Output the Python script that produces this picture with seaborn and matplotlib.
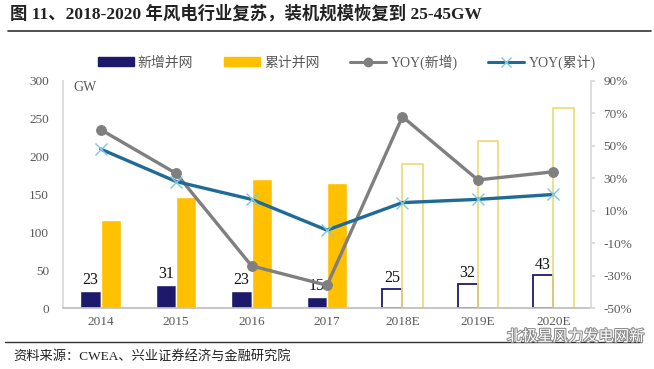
import numpy as np
import pandas as pd
import seaborn as sns
import matplotlib.pyplot as plt
from matplotlib.lines import Line2D
from matplotlib.patches import Patch
import matplotlib.patheffects as pe

years = ['2014', '2015', '2016', '2017', '2018E', '2019E', '2020E']
new_gw = [23, 31, 23, 15, 25, 32, 43]
total_gw = [116, 147, 170, 165, 190, 221, 264]
yoy_new = [60, 33, -24, -36, 68, 29, 34]
yoy_total = [48, 28, 17, -2, 15, 17, 20]
forecast = [False, False, False, False, True, True, True]

navy = '#1d1a6b'
gold = '#ffc000'
gold_edge = '#eedc7a'
grey = '#7f7f7f'
blue = '#1f6b95'
txt = '#595959'

sns.set_theme(style='white')
plt.rcParams['font.family'] = ['Liberation Serif', 'Noto Sans CJK SC', 'DejaVu Sans']
cjk = ['Liberation Serif', 'Noto Sans CJK SC', 'DejaVu Sans']

df = pd.DataFrame({
    'year': years * 2,
    'value': new_gw + total_gw,
    'series': ['新增并网'] * len(years) + ['累计并网'] * len(years),
})

fig = plt.figure(figsize=(6.54, 3.69), dpi=100)
ax = fig.add_axes([0.0963, 0.1653, 0.8074, 0.6152])

sns.barplot(data=df, x='year', y='value', hue='series', palette=[navy, gold],
            width=0.54, ax=ax, legend=False, saturation=1)

# hollow bars for the forecast years
n = len(years)
for i, p in enumerate(ax.patches[:2 * n]):
    k = i % n
    if forecast[k]:
        ec = navy if i < n else gold_edge
        p.set_facecolor('none')
        p.set_edgecolor(ec)
        p.set_linewidth(1.3)

for k in range(n):
    ax.annotate(str(new_gw[k]), (k - 0.135, new_gw[k]), xytext=(0, 2),
                textcoords='offset points', ha='center', va='bottom',
                fontsize=11.5, color='#111111')

ax.set_ylim(0, 300)
ax.set_xlim(-0.5, n - 0.5)
ax.set_yticks(range(0, 301, 50))
ax.set_xlabel('')
ax.set_ylabel('')
ax.tick_params(axis='y', labelsize=9.5, colors=txt, length=0, pad=10)
ax.tick_params(axis='x', labelsize=9.5, colors=txt, length=0, pad=6)
ax.set_xticks(range(n))
ax.set_xticklabels(years)
for s in ['top', 'right']:
    ax.spines[s].set_visible(False)
ax.spines['left'].set_color('#d9d9d9')
ax.spines['bottom'].set_color('#bfbfbf')
ax.text(0.02, 1.0, 'GW', transform=ax.transAxes, fontsize=10, color=txt,
        ha='left', va='top')

ax2 = ax.twinx()
xs = np.arange(n)
sns.lineplot(x=xs, y=yoy_new, ax=ax2, color=grey, lw=2.4, marker='o',
             markersize=7, markeredgecolor=grey)
sns.lineplot(x=xs, y=yoy_total, ax=ax2, color=blue, lw=2.4, marker='x',
             markersize=8, markeredgecolor='#7fc7e0', markeredgewidth=1)
ax2.set_ylim(-50, 90)
ax2.set_yticks(range(-50, 91, 20))
ax2.set_yticklabels([f'{v}%' for v in range(-50, 91, 20)])
ax2.tick_params(axis='y', labelsize=9.5, colors=txt, length=3, pad=6)
ax2.tick_params(axis='y', color='#d9d9d9')
for s in ['top', 'left', 'bottom']:
    ax2.spines[s].set_visible(False)
ax2.spines['right'].set_color('#d9d9d9')
ax2.set_xlim(-0.5, n - 0.5)

handles = [
    Patch(facecolor=navy, edgecolor=navy),
    Patch(facecolor=gold, edgecolor=gold),
    Line2D([], [], color=grey, lw=2.2, marker='o', markersize=6),
    Line2D([], [], color=blue, lw=2.2, marker='x', markersize=7,
           markeredgecolor='#7fc7e0'),
]
labels = ['新增并网', '累计并网', 'YOY(新增)', 'YOY(累计)']
fig.legend(handles, labels, loc='center', bbox_to_anchor=(0.53, 0.832), ncol=4,
           frameon=False, fontsize=10, handlelength=2.6, handleheight=0.6,
           columnspacing=2.2, handletextpad=0.3, labelcolor=txt)

fig.text(0.015, 0.962, '图 11、2018-2020 年风电行业复苏，装机规模恢复到 25-45GW',
         fontsize=12.5, fontweight='bold', family=cjk, color='#222222',
         ha='left', va='center')
fig.add_artist(Line2D([0.012, 0.995], [0.916, 0.916], color='#333333', lw=1.2))
fig.add_artist(Line2D([0.008, 0.98], [0.073, 0.073], color='#333333', lw=1))
fig.text(0.02, 0.035, '资料来源：CWEA、兴业证券经济与金融研究院', fontsize=9.5,
         family=cjk, color='#222222', ha='left', va='center')
fig.text(0.775, 0.087, '北极星风力发电网新', fontsize=11, family=cjk,
         color='white', ha='left', va='center',
         path_effects=[pe.withStroke(linewidth=1.5, foreground='#8a8a8a')])

fig.savefig('out.png', dpi=100)
